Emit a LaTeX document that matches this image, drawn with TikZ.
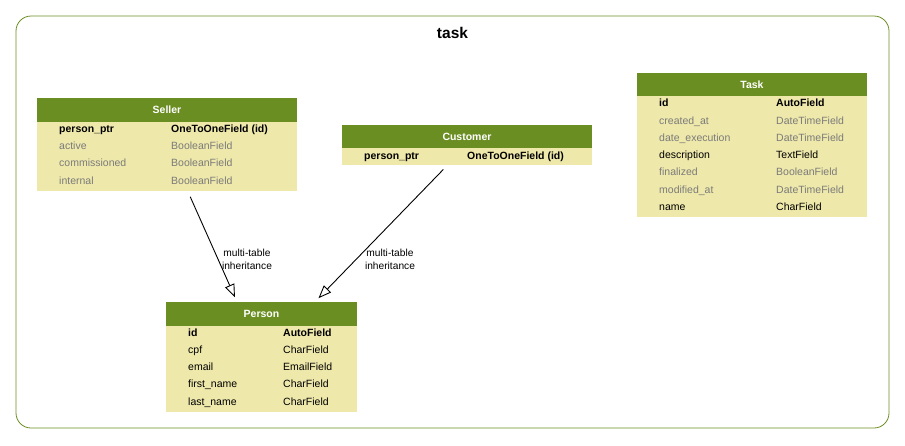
\documentclass[tikz,border=0pt]{standalone}
\usepackage{fontspec}
\setmainfont{Liberation Sans}
\usetikzlibrary{arrows.meta}
\definecolor{hdrgreen}{HTML}{6B8E23}
\definecolor{bodyyel}{HTML}{EEE8AA}
\definecolor{fieldgray}{HTML}{7B7B7B}
\newcommand{\fsz}{\fontsize{10.5}{12}\selectfont}
\tikzset{
  tbl/.style={fill=bodyyel, draw=none, inner sep=0, minimum width=#1},
  hdr/.style={fill=hdrgreen, text=white, font=\bfseries\fsz, inner sep=0, minimum height=24, anchor=north},
  fld/.style={anchor=west, inner sep=0, font=\fsz, text height=7.5, text depth=2},
  keyf/.style={fld, font=\bfseries\fsz},
  dimf/.style={fld, text=fieldgray},
  inh/.style={draw=black, line width=0.9pt, -{Triangle[open, length=13pt, width=10pt, fill=white]}},
  elabel/.style={font=\fontsize{10.2}{13}\selectfont, align=center, inner sep=0}
}
\begin{document}
\begin{tikzpicture}[x=1pt,y=-1pt]
\useasboundingbox (0,0) rectangle (905,445);
\node[draw=hdrgreen, line width=0.8pt, rounded corners=15, minimum width=873, minimum height=412, inner sep=0] (frame) at (452.5,222) {};
\node[font=\bfseries\fontsize{15.5}{17}\selectfont, inner sep=0] (title) at (452.5,33) {task};

% Seller
\node[tbl=260, minimum height=93] (seller) at (167,144.5) {};
\node[hdr, minimum width=260] (sellerh) at (seller.north) {Seller};
\node[keyf] (s1) at (59,130) {person\_ptr};
\node[keyf] (s1t) at (171,130) {OneToOneField (id)};
\node[dimf] (s2) at (59,147) {active};
\node[dimf] (s2t) at (171,147) {BooleanField};
\node[dimf] (s3) at (59,164) {commissioned};
\node[dimf] (s3t) at (171,164) {BooleanField};
\node[dimf] (s4) at (59,182) {internal};
\node[dimf] (s4t) at (171,182) {BooleanField};

% Customer
\node[tbl=250, minimum height=40] (customer) at (467,145) {};
\node[hdr, minimum width=250, minimum height=23] (customerh) at (customer.north) {Customer};
\node[keyf] (c1) at (364,157) {person\_ptr};
\node[keyf] (c1t) at (467,157) {OneToOneField (id)};

% Task
\node[tbl=230, minimum height=144] (task) at (752,145) {};
\node[hdr, minimum width=230, minimum height=23] (taskh) at (task.north) {Task};
\node[keyf] (t1) at (659,104) {id};
\node[keyf] (t1t) at (776,104) {AutoField};
\node[dimf] (t2) at (659,122) {created\_at};
\node[dimf] (t2t) at (776,122) {DateTimeField};
\node[dimf] (t3) at (659,139) {date\_execution};
\node[dimf] (t3t) at (776,139) {DateTimeField};
\node[fld] (t4) at (659,156) {description};
\node[fld] (t4t) at (776,156) {TextField};
\node[dimf] (t5) at (659,173) {finalized};
\node[dimf] (t5t) at (776,173) {BooleanField};
\node[dimf] (t6) at (659,191) {modified\_at};
\node[dimf] (t6t) at (776,191) {DateTimeField};
\node[fld] (t7) at (659,208) {name};
\node[fld] (t7t) at (776,208) {CharField};

% Person
\node[tbl=191, minimum height=110] (person) at (261.5,357) {};
\node[hdr, minimum width=191] (personh) at (person.north) {Person};
\node[keyf] (p1) at (188,334) {id};
\node[keyf] (p1t) at (283,334) {AutoField};
\node[fld] (p2) at (188,351) {cpf};
\node[fld] (p2t) at (283,351) {CharField};
\node[fld] (p3) at (188,368) {email};
\node[fld] (p3t) at (283,368) {EmailField};
\node[fld] (p4) at (188,385) {first\_name};
\node[fld] (p4t) at (283,385) {CharField};
\node[fld] (p5) at (188,403) {last\_name};
\node[fld] (p5t) at (283,403) {CharField};

% Edges
\draw[inh, shorten <=6pt, shorten >=5pt] (seller) -- (person);
\draw[inh, shorten <=6pt, shorten >=5pt] (customer) -- (person);
\node[elabel] (l1) at (247,259) {multi-table\\inheritance};
\node[elabel] (l2) at (390,259) {multi-table\\inheritance};
\end{tikzpicture}
\end{document}
